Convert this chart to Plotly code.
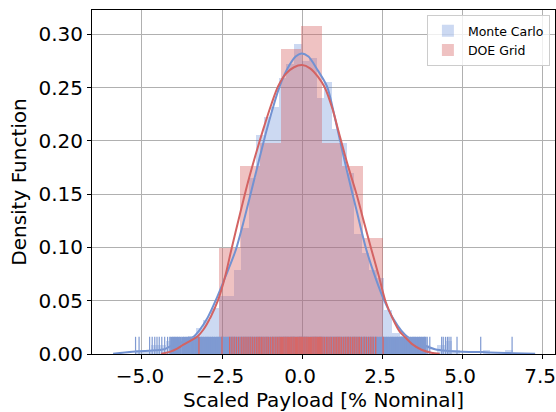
import plotly.graph_objects as go

# ---------------- data ----------------
# Monte Carlo histogram: 50 bins from data min to data max
mc_bin_start = -5.20
mc_bin_width = 0.2356
mc_density = [0.004, 0.004, 0.008, 0.008, 0.012, 0.012, 0.015, 0.017, 0.024, 0.032,
              0.043, 0.054, 0.054, 0.079, 0.118, 0.165, 0.205, 0.222, 0.232, 0.259,
              0.272, 0.291, 0.275, 0.278, 0.240, 0.255, 0.211, 0.198, 0.170, 0.113,
              0.095, 0.079, 0.071, 0.041, 0.020, 0.017, 0.013, 0.008, 0.008, 0.000,
              0.008, 0.012, 0.004, 0.000, 0.000, 0.000, 0.004, 0.000, 0.000, 0.004]

# DOE Grid histogram: 9 bins
doe_bin_start = -3.22
doe_bin_width = 0.639
doe_density = [0.0157, 0.099, 0.176, 0.198, 0.286, 0.308, 0.198, 0.176, 0.109]

# KDE curves
mc_kde_x = [-5.90, -5.30, -4.80, -4.30, -4.05, -3.75, -3.40, -3.20, -2.95, -2.70,
            -2.40, -2.07, -1.80, -1.50, -1.15, -0.90, -0.70, -0.45, -0.20, -0.02,
            0.20, 0.45, 0.78, 1.00, 1.18, 1.40, 1.70, 2.01, 2.30, 2.57,
            2.85, 3.10, 3.30, 3.60, 3.90, 4.15, 4.50, 5.00, 5.60, 6.10, 6.60, 7.28]
mc_kde_y = [0.0002, 0.0020, 0.0030, 0.0045, 0.0080, 0.0110, 0.0160, 0.0225, 0.0340, 0.0500,
            0.0720, 0.0976, 0.1270, 0.1630, 0.2050, 0.2320, 0.2510, 0.2680, 0.2790, 0.2820,
            0.2790, 0.2680, 0.2510, 0.2250, 0.2010, 0.1720, 0.1350, 0.0976, 0.0710, 0.0500,
            0.0330, 0.0220, 0.0160, 0.0110, 0.0070, 0.0045, 0.0030, 0.0022, 0.0018, 0.0012, 0.0008, 0.0002]

doe_kde_x = [-4.40, -4.13, -3.90, -3.72, -3.45, -3.25, -3.09, -2.85, -2.63, -2.40,
             -2.21, -1.95, -1.70, -1.45, -1.22, -0.95, -0.75, -0.50, -0.25, 0.00,
             0.25, 0.50, 0.71, 0.95, 1.13, 1.40, 1.70, 1.95, 2.17, 2.40,
             2.60, 2.85, 3.05, 3.21, 3.45, 3.73, 4.04, 4.30]
doe_kde_y = [0.0003, 0.0020, 0.0050, 0.0085, 0.0130, 0.0170, 0.0225, 0.0350, 0.0500, 0.0730,
             0.0976, 0.1300, 0.1600, 0.1870, 0.2100, 0.2350, 0.2510, 0.2630, 0.2690, 0.2710,
             0.2680, 0.2600, 0.2500, 0.2300, 0.2100, 0.1800, 0.1500, 0.1220, 0.0976, 0.0730,
             0.0500, 0.0320, 0.0210, 0.0160, 0.0090, 0.0040, 0.0012, 0.0002]

# Rug positions
mc_rug_sparse = [-5.20, -5.09, -4.76, -4.68, -4.60, -4.53, -4.46, -4.38, -4.29, -4.20, -4.13,
                 3.91, 3.99, 4.36, 4.41, 4.48, 4.54, 4.59, 4.65, 4.84, 5.58, 6.56]
mc_rug_dense = [-4.08, -4.02, -3.97, -3.91, -3.86, -3.80, -3.73, -3.68, -3.62, -3.57,
                -3.51, -3.44, -3.39, -3.33, -3.28, -3.22, -3.16, -3.11, -3.05, -2.99,
                -2.94, -2.88, -2.82, -2.77, -2.71, -2.65, -2.60, -2.54, -2.48, -2.43,
                -2.37, -2.31, -2.26, -2.20, -2.14, -2.09, -2.03, -1.97, -1.92, -1.86,
                -1.80, -1.75, -1.69, -1.63, -1.58, -1.52, -1.46, -1.41, -1.35, -1.29,
                -1.24, -1.18, -1.12, -1.07, -1.01, -0.95, -0.90, -0.84, -0.78, -0.73,
                -0.67, -0.61, -0.56, -0.50, -0.44, -0.39, -0.33, -0.27, -0.22, -0.16,
                -0.10, -0.05, 0.01, 0.07, 0.12, 0.18, 0.24, 0.29, 0.35, 0.41,
                0.46, 0.52, 0.58, 0.63, 0.69, 0.75, 0.80, 0.86, 0.92, 0.97,
                1.03, 1.09, 1.14, 1.20, 1.26, 1.31, 1.37, 1.43, 1.48, 1.54,
                1.60, 1.65, 1.71, 1.77, 1.82, 1.88, 1.94, 1.99, 2.05, 2.11,
                2.16, 2.22, 2.28, 2.33, 2.39, 2.45, 2.50, 2.56, 2.62, 2.67,
                2.73, 2.79, 2.84, 2.90, 2.96, 3.01, 3.07, 3.13, 3.18, 3.24,
                3.30, 3.35, 3.41, 3.47, 3.52, 3.58, 3.64, 3.69, 3.75, 3.81, 3.85]
doe_rug = [-3.22,
           -2.50, -2.26, -2.19, -2.12, -2.05, -1.98,
           -1.90, -1.84, -1.78, -1.72, -1.66, -1.60, -1.54, -1.48, -1.42, -1.37, -1.32,
           -1.27, -1.22, -1.16, -1.10, -1.05, -0.99, -0.93, -0.88, -0.82, -0.77, -0.72, -0.68,
           -0.64, -0.61, -0.57, -0.53, -0.50, -0.46, -0.43, -0.39, -0.35, -0.32, -0.28, -0.25,
           -0.21, -0.17, -0.14, -0.10, -0.07, -0.04,
           -0.01, 0.02, 0.06, 0.09, 0.13, 0.16, 0.20, 0.23, 0.27, 0.30, 0.34, 0.37, 0.41,
           0.44, 0.48, 0.51, 0.54, 0.57, 0.60,
           0.65, 0.70, 0.76, 0.81, 0.87, 0.92, 0.98, 1.03, 1.08, 1.13, 1.18, 1.23,
           1.29, 1.35, 1.41, 1.46, 1.52, 1.58, 1.63, 1.69, 1.75, 1.80, 1.86,
           1.94, 2.01, 2.08, 2.15, 2.22, 2.30, 2.53]

x_tick_vals = [-5.0, -2.5, 0.0, 2.5, 5.0, 7.5]
series_names = ["Monte Carlo", "DOE Grid"]

# ---------------- styling ----------------
X_RANGE = [-6.56, 7.90]
Y_RANGE = [0.0, 0.3227]
RUG_H = 0.05 * Y_RANGE[1]
BLUE_BAR = "rgba(72,120,208,0.28)"
RED_BAR = "rgba(214,95,95,0.38)"
BLUE_LINE = "#7292d2"
RED_LINE = "#d36363"
BLUE_RUG = "#7f9ad2"
RED_RUG = "#d66868"
FONT = "DejaVu Sans"
FS = 20


def centers(start, width, n):
    return [start + (i + 0.5) * width for i in range(n)]


def rug_xy(vals):
    xs, ys = [], []
    for v in vals:
        xs += [v, v, None]
        ys += [0, RUG_H, None]
    return xs, ys


fig = go.Figure()

fig.add_trace(go.Bar(x=centers(mc_bin_start, mc_bin_width, len(mc_density)), y=mc_density,
                     width=mc_bin_width, marker=dict(color=BLUE_BAR, line=dict(width=0)),
                     name=series_names[0]))
fig.add_trace(go.Bar(x=centers(doe_bin_start, doe_bin_width, len(doe_density)), y=doe_density,
                     width=doe_bin_width, marker=dict(color=RED_BAR, line=dict(width=0)),
                     name=series_names[1]))

fig.add_trace(go.Scatter(x=mc_kde_x, y=mc_kde_y, mode="lines",
                         line=dict(color=BLUE_LINE, width=2, shape="spline", smoothing=0.8),
                         showlegend=False))
rx, ry = rug_xy(mc_rug_dense)
fig.add_trace(go.Scatter(x=rx, y=ry, mode="lines", line=dict(color=BLUE_RUG, width=2.6),
                         showlegend=False, connectgaps=False))
rx, ry = rug_xy(mc_rug_sparse)
fig.add_trace(go.Scatter(x=rx, y=ry, mode="lines", line=dict(color=BLUE_RUG, width=1.2),
                         showlegend=False, connectgaps=False))

fig.add_trace(go.Scatter(x=doe_kde_x, y=doe_kde_y, mode="lines",
                         line=dict(color=RED_LINE, width=2, shape="spline", smoothing=0.8),
                         showlegend=False))
rx, ry = rug_xy(doe_rug)
fig.add_trace(go.Scatter(x=rx, y=ry, mode="lines", line=dict(color=RED_RUG, width=1.4),
                         showlegend=False, connectgaps=False))

axis_common = dict(showline=True, linecolor="black", linewidth=1, mirror=True,
                   ticks="outside", ticklen=4, tickwidth=1, tickcolor="black",
                   showgrid=True, gridcolor="#b0b0b0", gridwidth=0.8, zeroline=False,
                   automargin=False, ticklabeloverflow="allow",
                   tickfont=dict(family=FONT, size=FS, color="black"))

fig.update_layout(
    width=556, height=412,
    margin=dict(l=92, r=1, t=10, b=58),
    paper_bgcolor="white", plot_bgcolor="white",
    barmode="overlay", bargap=0,
    font=dict(family=FONT, size=FS, color="black"),
    xaxis=dict(range=X_RANGE, tickvals=x_tick_vals, tickformat=".1f", ticklabelshift=-2,
               title=dict(text="Scaled Payload [% Nominal]", standoff=0,
                          font=dict(family=FONT, size=FS, color="black")),
               **axis_common),
    yaxis=dict(range=Y_RANGE, dtick=0.05, tick0=0, tickformat=".2f",
               title=dict(text="Density Function", standoff=6,
                          font=dict(family=FONT, size=FS, color="black")),
               **axis_common),
    legend=dict(x=0.989, y=0.985, xanchor="right", yanchor="top",
                bgcolor="rgba(255,255,255,0.8)", bordercolor="#cccccc", borderwidth=1,
                font=dict(family=FONT, size=12.5, color="black"),
                tracegroupgap=0),
    showlegend=True,
)

fig.write_html("out.html", config={"displayModeBar": False},
               post_script="document.body.style.margin='0';document.body.style.padding='0';")
